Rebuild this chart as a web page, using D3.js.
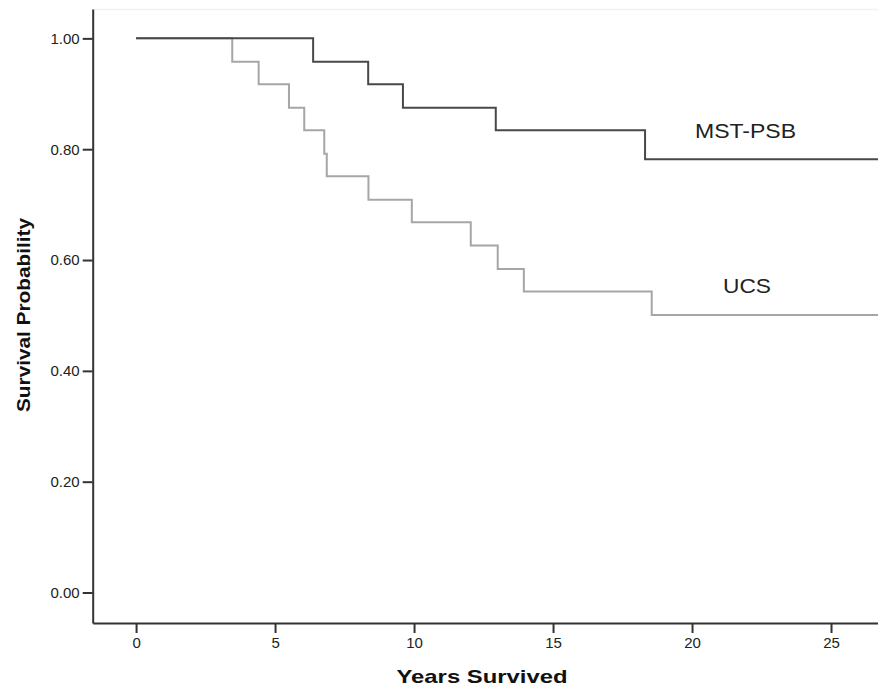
<!DOCTYPE html>
<html>
<head>
<meta charset="utf-8">
<script src="https://cdn.jsdelivr.net/npm/d3@7"></script>
<style>
  body { margin: 0; background: #fff; }
  svg { display: block; font-family: "Liberation Sans", Arial, sans-serif; }
</style>
</head>
<body>
<svg width="878" height="688"></svg>
<script>
// Kaplan-Meier steps
const mstTimes = [0, 6.37, 8.35, 9.6, 12.94, 18.31];
const mstSurv = [1.00, 0.958, 0.917, 0.875, 0.834, 0.782];
const ucsTimes = [0, 3.46, 4.41, 5.50, 6.05, 6.77, 6.86, 8.36, 9.92, 12.04, 13.01, 13.95, 18.55];
const ucsSurv = [1.00, 0.958, 0.917, 0.875, 0.834, 0.792, 0.751, 0.709, 0.668, 0.626, 0.584, 0.543, 0.501];
const followUpEnd = 26.7;
const xTicks = [0, 5, 10, 15, 20, 25];
const yTicks = [0, 0.2, 0.4, 0.6, 0.8, 1.0];

const svg = d3.select("svg");

const x = d3.scaleLinear().domain([-1.56, 26.69]).range([92.7, 878]);
const y = d3.scaleLinear().domain([-0.055, 1.053]).range([623, 9]);

// faint plot frame top
svg.append("line")
    .attr("x1", 93).attr("x2", 878)
    .attr("y1", 9.5).attr("y2", 9.5)
    .attr("stroke", "#f2f2f2")
    .attr("stroke-width", 1.5);

function steps(times, surv) {
    const pts = times.map((t, i) => [t, surv[i]]);
    pts.push([followUpEnd, surv[surv.length - 1]]);
    return pts;
}

const line = d3.line()
    .x(d => x(d[0]))
    .y(d => y(d[1]))
    .curve(d3.curveStepAfter);

svg.append("path")
    .datum(steps(ucsTimes, ucsSurv))
    .attr("fill", "none")
    .attr("stroke", "#a6a6a6")
    .attr("stroke-width", 2)
    .attr("d", line);

svg.append("path")
    .datum(steps(mstTimes, mstSurv))
    .attr("fill", "none")
    .attr("stroke", "#484848")
    .attr("stroke-width", 2)
    .attr("d", line);

// axes
const xAxis = svg.append("g")
    .attr("transform", `translate(0,${y.range()[0]})`)
    .call(d3.axisBottom(x).tickValues(xTicks).tickSize(10).tickSizeOuter(0).tickPadding(4));

const yAxis = svg.append("g")
    .attr("transform", `translate(${x.range()[0]},0)`)
    .call(d3.axisLeft(y).tickValues(yTicks).tickFormat(d3.format(".2f")).tickSize(10).tickSizeOuter(0).tickPadding(3));

[xAxis, yAxis].forEach(a => {
    a.select(".domain").attr("stroke", "#333").attr("stroke-width", 2);
    a.selectAll(".tick line").attr("stroke", "#333").attr("stroke-width", 2);
    a.selectAll(".tick text")
        .attr("fill", "#222")
        .style("font-family", "'Liberation Sans', Arial, sans-serif")
        .style("font-size", "15px");
});

// axis titles
svg.append("text")
    .attr("x", 482).attr("y", 683)
    .attr("text-anchor", "middle")
    .attr("textLength", 171)
    .attr("lengthAdjust", "spacingAndGlyphs")
    .style("font-size", "19px")
    .style("font-weight", "bold")
    .attr("fill", "#111")
    .text("Years Survived");

svg.append("text")
    .attr("transform", "translate(30,315) rotate(-90)")
    .attr("text-anchor", "middle")
    .attr("textLength", 194)
    .attr("lengthAdjust", "spacingAndGlyphs")
    .style("font-size", "19px")
    .style("font-weight", "bold")
    .attr("fill", "#111")
    .text("Survival Probability");

// curve labels
svg.append("text")
    .attr("x", 695).attr("y", 138)
    .attr("textLength", 101)
    .attr("lengthAdjust", "spacingAndGlyphs")
    .style("font-size", "21px")
    .attr("fill", "#222")
    .text("MST-PSB");

svg.append("text")
    .attr("x", 723).attr("y", 293)
    .attr("textLength", 48)
    .attr("lengthAdjust", "spacingAndGlyphs")
    .style("font-size", "21px")
    .attr("fill", "#222")
    .text("UCS");
</script>
</body>
</html>
